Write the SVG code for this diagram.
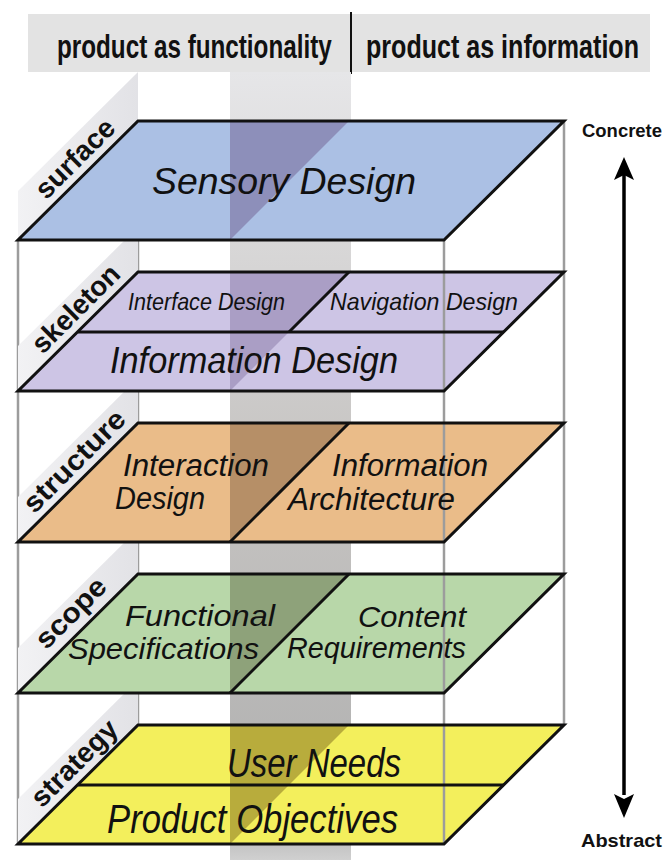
<svg xmlns="http://www.w3.org/2000/svg" width="664" height="860" viewBox="0 0 664 860">
<defs>
<linearGradient id="wallG" x1="0" y1="72" x2="0" y2="860" gradientUnits="userSpaceOnUse">
<stop offset="0" stop-color="#e6e6e8"/>
<stop offset="0.5" stop-color="#c6c4c2"/>
<stop offset="0.95" stop-color="#b0b0b0"/>
<stop offset="1" stop-color="#d0d0d0"/>
</linearGradient>
<linearGradient id="panelG" x1="0" y1="0" x2="1" y2="0">
<stop offset="0" stop-color="#f2f2f4"/>
<stop offset="1" stop-color="#e2e2e6"/>
</linearGradient>
<style>
.hdr{font-family:"Liberation Sans",Arial,sans-serif;font-weight:bold;font-size:33px;fill:#111}
.lbl{font-family:"Liberation Sans",Arial,sans-serif;font-weight:bold;font-size:28px;fill:#111}
.lay{font-family:"Liberation Sans Narrow","Liberation Sans",Arial,sans-serif;font-style:italic;fill:#111}
.side{font-family:"Liberation Sans",Arial,sans-serif;font-weight:bold;font-size:19px;fill:#111}
.edge{fill:none;stroke:#111;stroke-width:3;stroke-linejoin:miter}
.ln{stroke:#111;stroke-width:3}
.frame{stroke:#9c9c9c;stroke-width:2.5;fill:none}
.panel{fill:url(#panelG)}
</style>
</defs>
<rect width="664" height="860" fill="#ffffff"/>

<g id="header">
<rect x="28" y="14" width="622" height="58" fill="#e3e3e3"/>
<line x1="351" y1="12" x2="351" y2="74" stroke="#111" stroke-width="2"/>
<text class="hdr" transform="translate(57,58) scale(0.735,1)" x="0" y="0">product as functionality</text>
<text class="hdr" transform="translate(366,58) scale(0.76,1)" x="0" y="0">product as information</text>
</g>

<g id="wall">
<rect x="230" y="72" width="121" height="788" fill="url(#wallG)"/>
</g>

<g id="frame-back">
<line class="frame" x1="18" y1="240" x2="18" y2="844"/>
<line class="frame" x1="564" y1="121" x2="564" y2="725"/>
<line class="frame" x1="138" y1="240" x2="138" y2="272"/>
<line class="frame" x1="138" y1="391" x2="138" y2="423"/>
<line class="frame" x1="138" y1="542" x2="138" y2="574"/>
<line class="frame" x1="138" y1="693" x2="138" y2="725"/>
<line class="frame" x1="444" y1="240" x2="444" y2="272"/>
<line class="frame" x1="444" y1="391" x2="444" y2="423"/>
<line class="frame" x1="444" y1="542" x2="444" y2="574"/>
<line class="frame" x1="444" y1="693" x2="444" y2="725"/>
</g>

<g id="strategy">
<polygon class="panel" points="18,844 138,725 138,680 18,799"/>
<polygon points="138,725 564,725 444,844 18,844" fill="#f3ef5c"/>
<polygon points="230,725 349,725 230,844" fill="#b8ac3c"/>
<line class="frame" x1="444" y1="725" x2="444" y2="844"/>
<line class="ln" x1="78" y1="785" x2="504" y2="785"/>
<polygon class="edge" points="138,725 564,725 444,844 18,844"/>
<text class="lay" x="227" y="777" font-size="41" textLength="174" lengthAdjust="spacingAndGlyphs">User Needs</text>
<text class="lay" x="107" y="833" font-size="40" textLength="291" lengthAdjust="spacingAndGlyphs">Product Objectives</text>
<g transform="translate(18,844) rotate(-45)"><text class="lbl" x="42" y="-8" textLength="110" lengthAdjust="spacingAndGlyphs">strategy</text></g>
</g>

<g id="scope">
<polygon class="panel" points="18,693 138,574 138,529 18,648"/>
<polygon points="138,574 564,574 444,693 18,693" fill="#b8d7a9"/>
<polygon points="230,574 349,574 230,693" fill="#8ea27a"/>
<line class="frame" x1="444" y1="574" x2="444" y2="693"/>
<line class="ln" x1="230" y1="693" x2="349" y2="574"/>
<polygon class="edge" points="138,574 564,574 444,693 18,693"/>
<text class="lay" x="125" y="626" font-size="30" textLength="150" lengthAdjust="spacingAndGlyphs">Functional</text>
<text class="lay" x="68" y="659" font-size="30" textLength="191" lengthAdjust="spacingAndGlyphs">Specifications</text>
<text class="lay" x="358" y="627" font-size="30" textLength="108" lengthAdjust="spacingAndGlyphs">Content</text>
<text class="lay" x="287" y="658" font-size="30" textLength="179" lengthAdjust="spacingAndGlyphs">Requirements</text>
<g transform="translate(18,693) rotate(-45)"><text class="lbl" x="50" y="-10" textLength="88" lengthAdjust="spacingAndGlyphs">scope</text></g>
</g>

<g id="structure">
<polygon class="panel" points="18,542 138,423 138,378 18,497"/>
<polygon points="138,423 564,423 444,542 18,542" fill="#eabc89"/>
<polygon points="230,423 349,423 230,542" fill="#b68f67"/>
<line class="frame" x1="444" y1="423" x2="444" y2="542"/>
<line class="ln" x1="230" y1="542" x2="349" y2="423"/>
<polygon class="edge" points="138,423 564,423 444,542 18,542"/>
<text class="lay" x="123" y="476" font-size="31" textLength="146" lengthAdjust="spacingAndGlyphs">Interaction</text>
<text class="lay" x="115" y="509" font-size="31" textLength="90" lengthAdjust="spacingAndGlyphs">Design</text>
<text class="lay" x="332" y="476" font-size="31" textLength="156" lengthAdjust="spacingAndGlyphs">Information</text>
<text class="lay" x="288" y="510" font-size="31" textLength="167" lengthAdjust="spacingAndGlyphs">Architecture</text>
<g transform="translate(18,542) rotate(-45)"><text class="lbl" x="31" y="-8" textLength="132" lengthAdjust="spacingAndGlyphs">structure</text></g>
</g>

<g id="skeleton">
<polygon class="panel" points="18,391 138,272 138,227 18,346"/>
<polygon points="138,272 564,272 444,391 18,391" fill="#cdc5e5"/>
<polygon points="230,272 349,272 230,391" fill="#aa9ec5"/>
<line class="frame" x1="444" y1="272" x2="444" y2="391"/>
<line class="ln" x1="78" y1="332" x2="504" y2="332"/>
<line class="ln" x1="289" y1="332" x2="349" y2="272"/>
<polygon class="edge" points="138,272 564,272 444,391 18,391"/>
<text class="lay" x="128" y="310" font-size="24" textLength="157" lengthAdjust="spacingAndGlyphs">Interface Design</text>
<text class="lay" x="330" y="310" font-size="24" textLength="188" lengthAdjust="spacingAndGlyphs">Navigation Design</text>
<text class="lay" x="110" y="373" font-size="36" textLength="288" lengthAdjust="spacingAndGlyphs">Information Design</text>
<g transform="translate(18,391) rotate(-45)"><text class="lbl" x="43" y="-8" textLength="112" lengthAdjust="spacingAndGlyphs">skeleton</text></g>
</g>

<g id="surface">
<polygon class="panel" points="18,240 138,121 138,72 18,191"/>
<polygon points="138,121 564,121 444,240 18,240" fill="#abc0e4"/>
<polygon points="230,121 349,121 230,240" fill="#8d8fba"/>
<polygon class="edge" points="138,121 564,121 444,240 18,240"/>
<text class="lay" x="152" y="194" font-size="37" textLength="264" lengthAdjust="spacingAndGlyphs">Sensory Design</text>
<g transform="translate(18,240) rotate(-45)"><text class="lbl" x="48" y="-8" textLength="100" lengthAdjust="spacingAndGlyphs">surface</text></g>
</g>

<g id="scale">
<text class="side" x="582" y="137" textLength="80" lengthAdjust="spacingAndGlyphs">Concrete</text>
<text class="side" x="581" y="847" textLength="81" lengthAdjust="spacingAndGlyphs">Abstract</text>
<line x1="624" y1="175" x2="624" y2="795" stroke="#000" stroke-width="3.5"/>
<polygon points="624,157 614,180 624,175 634,180" fill="#000"/>
<polygon points="624,818 614,794 624,799 634,794" fill="#000"/>
</g>
</svg>
